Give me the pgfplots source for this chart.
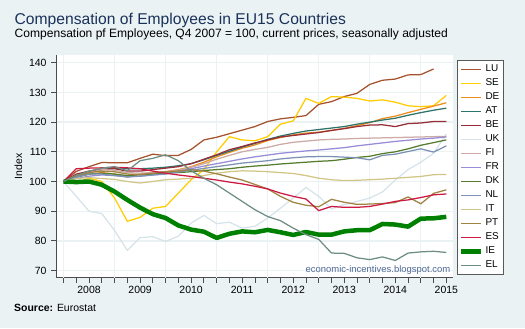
\documentclass[border=0pt]{standalone}
\usepackage{fontspec}
\setmainfont{Liberation Sans}
\usepackage{pgfplots}
\usepackage{pgfplotstable}
\pgfplotsset{compat=1.18}
\usetikzlibrary{backgrounds}
\definecolor{bg}{RGB}{234,242,243}
\definecolor{gridc}{RGB}{234,242,243}
\definecolor{titlec}{RGB}{26,50,90}
\definecolor{wmark}{RGB}{80,105,150}
\definecolor{cLU}{RGB}{165,82,45}
\definecolor{cSE}{RGB}{255,205,0}
\definecolor{cDE}{RGB}{238,140,30}
\definecolor{cAT}{RGB}{45,115,105}
\definecolor{cBE}{RGB}{150,45,55}
\definecolor{cUK}{RGB}{214,228,234}
\definecolor{cFI}{RGB}{205,170,165}
\definecolor{cFR}{RGB}{150,140,215}
\definecolor{cDK}{RGB}{85,125,45}
\definecolor{cNL}{RGB}{123,146,180}
\definecolor{cIT}{RGB}{210,198,135}
\definecolor{cPT}{RGB}{160,130,65}
\definecolor{cES}{RGB}{205,25,65}
\definecolor{cIE}{RGB}{0,128,0}
\definecolor{cEL}{RGB}{110,142,132}

\pgfplotstableread{
t LU SE DE AT BE UK FI FR DK NL IT PT ES IE EL
0 100 100 100 100 100 100 100 100 100 100 100 100 100 100 100
1 103.4 99.5 101.5 102 102.5 95 102 101 101.5 101.5 101 102 104.3 99.8 102
2 105 101.1 102.5 103 103.5 90 103 101.8 102.5 102.5 101.3 103 104.5 100 103.5
3 106.4 100 103 104 104 89.2 104 102.2 102.8 102.5 101 103.5 104.6 98.9 104.5
4 106.3 94.4 102.5 104.5 104.3 83.5 103.8 102 102.5 102 100.7 103.3 104.8 96.6 105
5 106.3 86.6 101.5 104.3 103.5 76.8 103 101.8 102 101.5 100 102.5 104.6 93.8 103.6
6 107.8 87.9 102.5 104.3 103.5 81.1 102.8 101.8 102.3 101.8 99.5 102.3 104.3 91.2 107
7 109.2 91 103 104.5 104 81.4 103 102.2 102.5 102.2 100 102.8 103.5 89 107.8
8 108.7 91.6 103.3 104.8 104.5 79.8 103.2 102.5 102.8 102.6 100.6 103.3 102.8 87.7 109
9 108.8 96.1 104 105.3 105 81.6 103.8 103.5 103 103.2 100.8 103.5 102.2 85.2 107
10 110.8 100.6 105 106 106 86 104.8 104.3 103.3 103.8 101.1 104 101.7 83.8 103.6
11 114 104 106.5 107.3 107.5 88.6 106 105.2 103.7 104.4 102 103.5 101.1 83.1 101.1
12 114.9 110 108.3 108.8 109 85.8 107.5 106 104 105 102.8 102.6 100.5 81 98.9
13 116.1 115.1 109.8 110.2 110.7 86.3 108.8 106.8 104.3 105.6 103.3 101.5 99.8 82.4 96.1
14 117.3 114 111.2 111.6 111.8 84.3 110 107.6 104.8 106.2 103.6 100.5 99.2 83.2 93.3
15 118.5 113.7 112.3 112.8 113 84.9 110.8 108.3 105.2 106.6 103.5 99 98.4 82.9 90.5
16 120.2 115.1 113.8 114.2 114 87.7 111.5 108.9 105.5 107 103.3 97.5 97.5 83.7 88.2
17 121.1 119.3 114.8 115.3 115 91 112.5 109.5 105.9 107.6 103 95 96.1 82.9 86.8
18 121.6 120.4 115.7 116.2 115.5 94.4 113.2 109.9 106.2 108 102.7 93 95 82 84.3
19 122.2 128 116.3 117 116 98 113.6 110.3 106.5 108.3 102 92 94.1 83 82.1
20 126 126.3 116.6 117.5 116.5 95 114 110.6 106.8 108.4 101.1 91.5 90.2 82.1 80.5
21 126.9 128.6 117.2 118 117.2 90.8 114.2 111 107 108.4 100.6 94 91.6 82.1 75.9
22 128.6 128.4 117.9 118.5 117.8 92.2 114.3 111.4 107.5 108.2 100.3 93 91.3 83.2 75.8
23 129.7 128 118.8 119.3 118.5 93.3 114.5 112 108.1 108 100.4 92.3 91.3 83.6 74.3
24 132.7 127.1 119.8 120 119 94.4 114.6 112.5 108.5 107.3 100.6 92.4 91.6 83.6 73.7
25 134.1 127.5 121.2 120.7 119.1 96.5 114.7 113 109.4 108.8 100.8 92.6 92.4 85.7 74.6
26 134.5 126.7 122 121.3 118.5 100.5 114.8 113.5 110 109.2 101.1 92.9 93.3 85.5 73.4
27 135.9 125.5 123.2 122.3 119.5 104 114.9 113.9 111 110.1 101.4 94.8 93.8 84.8 75.9
28 136 125.2 124.3 123.2 119.7 106.5 115 114.3 112.2 111 101.7 92.5 94.6 87.5 76.3
29 137.9 125.5 125.4 124 120.2 109.5 115.1 114.6 113.1 109.9 102.3 96 95.5 87.6 76.5
30 nan 129 126.5 124.7 120.2 116 115.2 115 114 112 102.4 97.2 95.8 88.1 76.1
}\data

\begin{document}
\begin{tikzpicture}
\begin{axis}[
  name=ax, scale only axis,
  width=396.7bp, height=222.7bp,
  xmin=-0.59, xmax=30.5, ymin=67.6, ymax=142.6,
  axis lines*=left,
  axis line style={draw=black!70, line width=0.9bp},
  axis background/.style={fill=white},
  tick align=outside,
  major tick length=5bp, minor tick length=5bp,
  tick style={draw=black!70, line width=0.8bp},
  ytick={70,80,...,140},
  ymajorgrids=true,
  xtick={2,6,...,30},
  xticklabels={2008,2009,2010,2011,2012,2013,2014,2015},
  minor xtick={0,1,...,30},
  extra x ticks={0,4,...,28},
  extra x tick labels={},
  extra x tick style={xmajorgrids=true},
  major grid style={draw=gridc, line width=1.3bp},
  /pgf/number format/assume math mode=true,
  ticklabel style={font=\fontsize{10.5}{12}\selectfont},
  yticklabel style={xshift=-1bp},
  unbounded coords=jump,
  every axis plot/.append style={line width=1.25bp, line join=round},
  legend style={at={(1.010,0.9776)}, anchor=north west, draw=black!65, fill=white,
    line width=0.7bp, font=\fontsize{10}{12}\selectfont, row sep=4bp,
    inner xsep=2bp, inner ysep=4bp,
    nodes={text height=7.5bp, text depth=2.5bp, inner ysep=0bp, inner xsep=2bp}},
  legend cell align=left,
  legend image code/.code={\draw[#1] (0bp,0bp) -- (20bp,0bp);},
]
\addplot[cLU] table[x=t,y=LU]{\data};
\addplot[cSE] table[x=t,y=SE]{\data};
\addplot[cDE] table[x=t,y=DE]{\data};
\addplot[cAT] table[x=t,y=AT]{\data};
\addplot[cBE] table[x=t,y=BE]{\data};
\addplot[cUK] table[x=t,y=UK]{\data};
\addplot[cFI] table[x=t,y=FI]{\data};
\addplot[cFR] table[x=t,y=FR]{\data};
\addplot[cDK] table[x=t,y=DK]{\data};
\addplot[cNL] table[x=t,y=NL]{\data};
\addplot[cIT] table[x=t,y=IT]{\data};
\addplot[cPT] table[x=t,y=PT]{\data};
\addplot[cES] table[x=t,y=ES]{\data};
\addplot[cIE, line width=4.5bp] table[x=t,y=IE]{\data};
\addplot[cEL] table[x=t,y=EL]{\data};
\legend{LU,SE,DE,AT,BE,UK,FI,FR,DK,NL,IT,PT,ES,IE,EL}
\end{axis}
\begin{scope}[shift={(ax.south west)}, x=1bp, y=1bp]
\begin{scope}[on background layer]
\fill[bg] (-56,-50.3) rectangle (469,277.7);
\end{scope}
\node[anchor=base west, font=\fontsize{15.7}{18}\selectfont, text=titlec, inner sep=0] at (-41.5,253.4) {Compensation of Employees in EU15 Countries};
\node[anchor=base west, font=\fontsize{12.1}{14}\selectfont, inner sep=0] at (-41.5,240) {Compensation pf Employees, Q4 2007 = 100, current prices, seasonally adjusted};
\node[anchor=base west, font=\fontsize{10.5}{12}\selectfont, inner sep=0] at (-42,-33.8) {\textbf{Source:} Eurostat};
\node[rotate=90, anchor=base, font=\fontsize{10.5}{12}\selectfont, inner sep=0] at (-34,111.4) {Index};
\node[anchor=base east, font=\fontsize{9.5}{11}\selectfont, text=wmark, inner sep=0] at (394.5,5.2) {economic-incentives.blogspot.com};
\end{scope}
\end{tikzpicture}
\end{document}
